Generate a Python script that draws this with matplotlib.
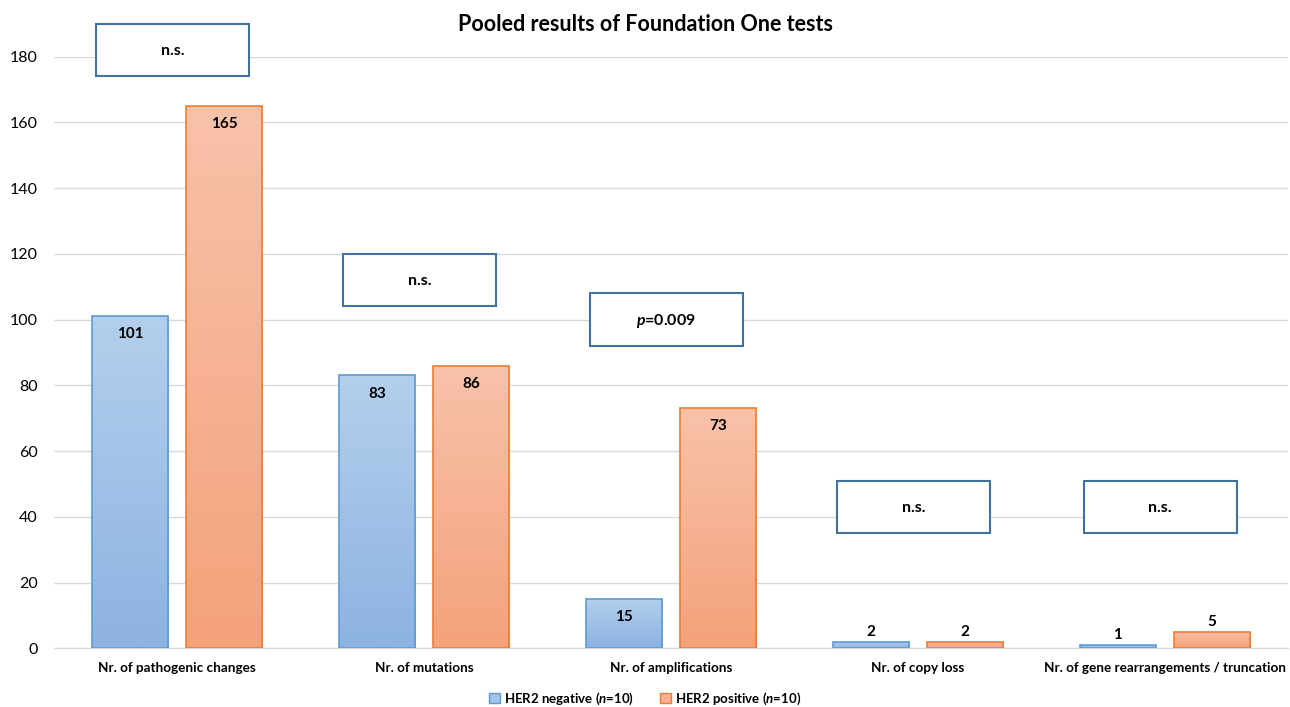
import matplotlib.pyplot as plt
import numpy as np
from matplotlib.colors import LinearSegmentedColormap
from matplotlib.patches import Rectangle

plt.rcParams["font.family"] = ["Lato", "DejaVu Sans"]
plt.rcParams["mathtext.fontset"] = "custom"
plt.rcParams["mathtext.rm"] = "Lato"
plt.rcParams["mathtext.it"] = "Lato:italic"
plt.rcParams["mathtext.bf"] = "Lato:bold"
plt.rcParams["mathtext.bfit"] = "Lato:bold:italic"

categories = [
    "Nr. of pathogenic changes",
    "Nr. of mutations",
    "Nr. of amplifications",
    "Nr. of copy loss",
    "Nr. of gene rearrangements / truncation",
]
her2_negative = [101, 83, 15, 2, 1]
her2_positive = [165, 86, 73, 2, 5]
series_labels = ["HER2 negative ($\\mathbfit{n}$=10)", "HER2 positive ($\\mathbfit{n}$=10)"]

# significance boxes: (category index, y bottom, y top, text)
sig_boxes = [
    (0, 174, 190, "n.s."),
    (1, 104, 120, "n.s."),
    (2, 92, 108, "$\\mathbfit{p}$=0.009"),
    (3, 35, 51, "n.s."),
    (4, 35, 51, "n.s."),
]
yticks = list(range(0, 181, 20))

blue_cmap = LinearSegmentedColormap.from_list("blue", ["#8DB3E2", "#B4CFEC"])
orange_cmap = LinearSegmentedColormap.from_list("orange", ["#F4A27B", "#F8C2AA"])

fig = plt.figure(figsize=(12.9, 7.07), dpi=100)
ax = fig.add_axes([0.0415, 0.083, 0.957, 0.837])

x = np.arange(len(categories))
width = 0.308
offset = 0.19
grad = np.linspace(0, 1, 256).reshape(-1, 1)


def gradient_bars(xpos, values, cmap, edge):
    bars = ax.bar(xpos, values, width, facecolor="none", edgecolor=edge,
                  linewidth=1.2, zorder=3)
    for bar in bars:
        x0, w, h = bar.get_x(), bar.get_width(), bar.get_height()
        im = ax.imshow(grad, cmap=cmap, origin="lower", aspect="auto",
                       extent=(x0, x0 + w, 0, h), zorder=2)
        im.set_clip_path(bar)
    return bars


neg_bars = gradient_bars(x - offset, her2_negative, blue_cmap, "#5B9BD5")
pos_bars = gradient_bars(x + offset, her2_positive, orange_cmap, "#ED7D31")

# value labels: inside the top for tall bars, above for short ones
for bars in (neg_bars, pos_bars):
    for bar in bars:
        h = bar.get_height()
        cx = bar.get_x() + bar.get_width() / 2
        if h > 10:
            ax.annotate(f"{h:.0f}", (cx, h), xytext=(0, -8), textcoords="offset points",
                        ha="center", va="top", fontsize=11, fontweight="bold", zorder=5)
        else:
            ax.annotate(f"{h:.0f}", (cx, h), xytext=(0, 2), textcoords="offset points",
                        ha="center", va="bottom", fontsize=11, fontweight="bold", zorder=5)

for idx, y0, y1, label in sig_boxes:
    rect = Rectangle((idx - 0.328, y0), 0.62, y1 - y0, facecolor="white",
                     edgecolor="#41719C", linewidth=1.5, zorder=4, clip_on=False)
    ax.add_patch(rect)
    ax.text(idx - 0.018, (y0 + y1) / 2 - 0.3, label, ha="center", va="center",
            fontsize=11.5, fontweight="bold", zorder=5, clip_on=False)

ax.set_xlim(-0.5, len(categories) - 0.5)
ax.set_ylim(0, 180)
ax.set_yticks(yticks)
ax.set_xticks(x)
ax.set_xticklabels(categories, fontsize=9.7, fontweight="bold")
ax.tick_params(axis="x", length=0, pad=10)
ax.tick_params(axis="y", length=0, pad=11.5, labelsize=11.5)
ax.grid(axis="y", color="#D9D9D9", linewidth=1, zorder=0)
ax.set_axisbelow(True)
for side in ("top", "right", "left"):
    ax.spines[side].set_visible(False)
ax.spines["bottom"].set_color("#D9D9D9")

fig.text(0.5, 0.966, "Pooled results of Foundation One tests", ha="center",
         va="center", fontsize=15.5, fontweight="bold")

handles = [
    Rectangle((0, 0), 1, 1, facecolor="#A3C3E8", edgecolor="#5B9BD5"),
    Rectangle((0, 0), 1, 1, facecolor="#F6B192", edgecolor="#ED7D31"),
]
fig.legend(handles, series_labels, loc="center", bbox_to_anchor=(0.5, 0.012),
           ncol=2, frameon=False, handlelength=0.8, handleheight=0.8,
           handletextpad=0.3, columnspacing=2.0,
           prop={"size": 9.5, "weight": "bold"})

fig.savefig("out.png", dpi=100)
